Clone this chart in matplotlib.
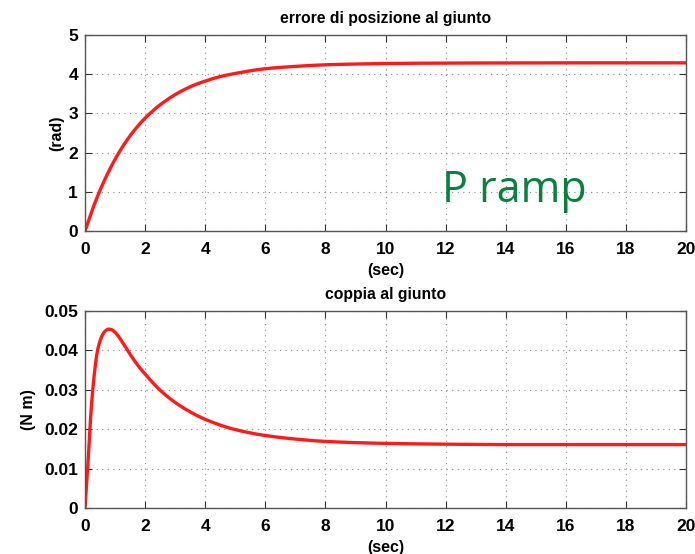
import matplotlib
matplotlib.use('Agg')
import matplotlib.pyplot as plt
import numpy as np

# position error at the joint (rad)
t_err = [0, 0.25, 0.5, 0.75, 1, 1.25, 1.5, 1.75, 2, 2.5, 3, 3.5, 4, 4.5, 5,
         6, 7, 8, 9, 10, 12, 14, 16, 18, 20]
err = [0, 0.556, 1.04, 1.46, 1.83, 2.15, 2.43, 2.67, 2.88, 3.22, 3.48, 3.68,
       3.825, 3.94, 4.02, 4.14, 4.20, 4.24, 4.26, 4.273, 4.284, 4.288, 4.29,
       4.29, 4.29]

# joint torque (N m)
t_tau = [0, 0.05, 0.1, 0.15, 0.2, 0.3, 0.4, 0.5, 0.6, 0.7, 0.8, 0.9, 1.0,
         1.1, 1.2, 1.4, 1.6, 1.8, 2.0, 2.5, 3.0, 3.5, 4.0, 5.0, 6.0, 7.0,
         8.0, 10.0, 12.0, 14.0, 16.0, 18.0, 20.0]
tau = [0, 0.006, 0.0115, 0.0185, 0.0245, 0.0333, 0.0393, 0.0424, 0.0442,
       0.0451, 0.0454, 0.0452, 0.0446, 0.0437, 0.0426, 0.0402, 0.0379,
       0.0358, 0.0340, 0.0299, 0.0268, 0.0244, 0.0225, 0.0199, 0.0184,
       0.0175, 0.0169, 0.0164, 0.0162, 0.0161, 0.0161, 0.0161, 0.0161]

plt.rcParams['font.family'] = ['Liberation Sans', 'DejaVu Sans']
plt.rcParams['font.weight'] = 'bold'

fig = plt.figure(figsize=(6.95, 5.54), dpi=100)
ax1 = fig.add_axes([0.1223, 0.583, 0.865, 0.3538])
ax2 = fig.add_axes([0.1223, 0.083, 0.865, 0.3556])


def smooth(x, y):
    # monotone cubic (pchip-like) resampling so the curve looks continuous
    x = np.asarray(x, float)
    y = np.asarray(y, float)
    h = np.diff(x)
    d = np.diff(y) / h
    m = np.zeros_like(y)
    for i in range(1, len(x) - 1):
        if d[i - 1] * d[i] > 0:
            w1 = 2 * h[i] + h[i - 1]
            w2 = h[i] + 2 * h[i - 1]
            m[i] = (w1 + w2) / (w1 / d[i - 1] + w2 / d[i])
    m[0] = d[0]
    m[-1] = d[-1]
    xs = np.linspace(x[0], x[-1], 4000)
    k = np.clip(np.searchsorted(x, xs) - 1, 0, len(x) - 2)
    s = (xs - x[k]) / h[k]
    h00 = 2 * s**3 - 3 * s**2 + 1
    h10 = s**3 - 2 * s**2 + s
    h01 = -2 * s**3 + 3 * s**2
    h11 = s**3 - s**2
    ys = h00 * y[k] + h10 * h[k] * m[k] + h01 * y[k + 1] + h11 * h[k] * m[k + 1]
    return xs, ys


for ax in (ax1, ax2):
    ax.set_xlim(0, 20)
    ax.set_xticks(np.arange(0, 21, 2))
    ax.grid(True, linestyle=(0, (1, 4)), color='#8a8a8a', linewidth=0.8)
    ax.tick_params(direction='in', top=True, right=True, length=5,
                   labelsize=12.5, colors='#333333', labelcolor='black')
    ax.tick_params(axis='x', pad=8)
    ax.tick_params(axis='y', pad=5)
    for sp in ax.spines.values():
        sp.set_color('#555555')
        sp.set_linewidth(1.0)
    ax.set_xlabel('(sec)', fontsize=11.5, fontweight='bold', labelpad=4)

xs, ys = smooth(t_err, err)
ax1.plot(xs, ys, color='#ff1a1a', linewidth=2.4, solid_capstyle='round')
ax1.set_ylim(0, 5)
ax1.set_yticks(range(0, 6))
ax1.set_ylabel('(rad)', fontsize=11.5, fontweight='bold', labelpad=3)
ax1.set_title('errore di posizione al giunto', fontsize=11.3, fontweight='bold', pad=9)
ax1.text(11.87, 0.75, 'P ramp', color='#0a7f3f', fontsize=31,
         family=['Open Sans', 'DejaVu Sans'], fontweight='normal')

xs, ys = smooth(t_tau, tau)
ax2.plot(xs, ys, color='#ff1a1a', linewidth=2.4, solid_capstyle='round')
ax2.set_ylim(0, 0.05)
ax2.set_yticks([0, 0.01, 0.02, 0.03, 0.04, 0.05])
ax2.set_yticklabels(['0', '0.01', '0.02', '0.03', '0.04', '0.05'])
ax2.set_ylabel('(N m)', fontsize=11.5, fontweight='bold', labelpad=6)
ax2.set_title('coppia al giunto', fontsize=11.3, fontweight='bold', pad=9)

fig.savefig('out.png', dpi=100)
